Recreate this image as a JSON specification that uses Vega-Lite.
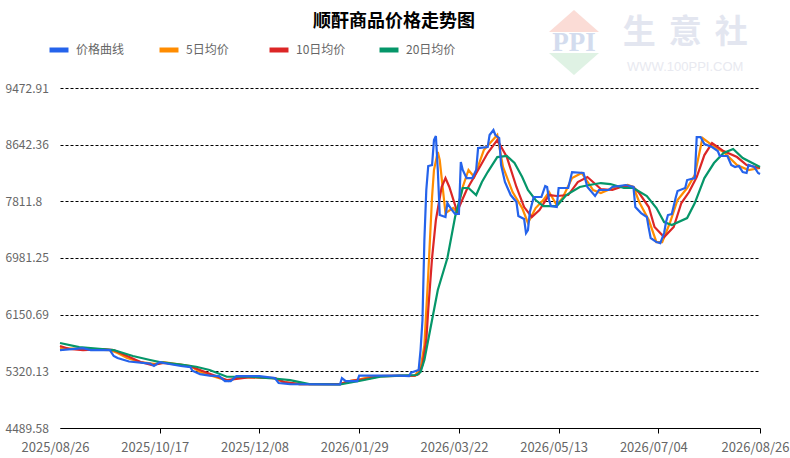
{"$schema":"https://vega.github.io/schema/vega-lite/v6.json","autosize":"none","width":700,"height":340,"padding":{"left":60,"top":88,"right":30,"bottom":30},"background":"white",
"config":{"font":"Noto Sans CJK SC","view":{"stroke":null}},
"title":{"text":"顺酐商品价格走势图","font":"Noto Sans CJK SC","fontSize":18,"fontWeight":"bold","color":"#000","anchor":"middle","dx":-16,"offset":-30,"baseline":"middle"},
"datasets":{"logo":[{"d":"2026-05-21","v":10454,"t":"up"},{"d":"2026-05-21","v":9824,"t":"down"}],
"logoText":[{"d":"2026-05-21","v":10132,"t":"PPI","k":"ppi"},{"d":"2026-06-24","v":10278,"t":"生","k":"cn"},{"d":"2026-07-18","v":10278,"t":"意","k":"cn"},{"d":"2026-08-11","v":10278,"t":"社","k":"cn"},{"d":"2026-07-18","v":9778,"t":"WWW.100PPI.COM","k":"url"}],
"series":[
{"d":"2025-08-26","s":"5日均价","v":5662},{"d":"2025-09-08","s":"5日均价","v":5647},{"d":"2025-09-21","s":"5日均价","v":5632},{"d":"2025-09-25","s":"5日均价","v":5588},{"d":"2025-09-30","s":"5日均价","v":5515},{"d":"2025-10-07","s":"5日均价","v":5456},{"d":"2025-10-15","s":"5日均价","v":5427},{"d":"2025-10-19","s":"5日均价","v":5456},{"d":"2025-11-02","s":"5日均价","v":5398},{"d":"2025-11-07","s":"5日均价","v":5310},{"d":"2025-11-15","s":"5日均价","v":5236},{"d":"2025-11-22","s":"5日均价","v":5178},{"d":"2025-11-27","s":"5日均价","v":5236},{"d":"2025-12-16","s":"5日均价","v":5222},{"d":"2025-12-20","s":"5日均价","v":5163},{"d":"2025-12-29","s":"5日均价","v":5134},{"d":"2026-01-19","s":"5日均价","v":5134},{"d":"2026-01-24","s":"5日均价","v":5178},{"d":"2026-01-30","s":"5日均价","v":5207},{"d":"2026-02-05","s":"5日均价","v":5251},{"d":"2026-02-27","s":"5日均价","v":5258},{"d":"2026-03-02","s":"5日均价","v":5368},{"d":"2026-03-04","s":"5日均价","v":5705},{"d":"2026-03-06","s":"5日均价","v":6731},{"d":"2026-03-08","s":"5日均价","v":7875},{"d":"2026-03-09","s":"5日均价","v":8271},{"d":"2026-03-11","s":"5日均价","v":8535},{"d":"2026-03-12","s":"5日均价","v":8417},{"d":"2026-03-15","s":"5日均价","v":7640},{"d":"2026-03-19","s":"5日均价","v":7714},{"d":"2026-03-21","s":"5日均价","v":7655},{"d":"2026-03-24","s":"5日均价","v":8022},{"d":"2026-03-27","s":"5日均价","v":8271},{"d":"2026-03-30","s":"5日均价","v":8168},{"d":"2026-04-04","s":"5日均价","v":8564},{"d":"2026-04-11","s":"5日均价","v":8784},{"d":"2026-04-14","s":"5日均价","v":8315},{"d":"2026-04-19","s":"5日均价","v":7948},{"d":"2026-04-24","s":"5日均价","v":7713},{"d":"2026-04-27","s":"5日均价","v":7494},{"d":"2026-05-01","s":"5日均价","v":7713},{"d":"2026-05-05","s":"5日均价","v":7831},{"d":"2026-05-08","s":"5日均价","v":7948},{"d":"2026-05-12","s":"5日均价","v":7757},{"d":"2026-05-15","s":"5日均价","v":7860},{"d":"2026-05-20","s":"5日均价","v":8153},{"d":"2026-05-25","s":"5日均价","v":8227},{"d":"2026-05-31","s":"5日均价","v":7978},{"d":"2026-06-04","s":"5日均价","v":7934},{"d":"2026-06-09","s":"5日均价","v":7993},{"d":"2026-06-18","s":"5日均价","v":8051},{"d":"2026-06-21","s":"5日均价","v":8022},{"d":"2026-06-24","s":"5日均价","v":7802},{"d":"2026-06-29","s":"5日均价","v":7538},{"d":"2026-07-03","s":"5日均价","v":7215},{"d":"2026-07-06","s":"5日均价","v":7215},{"d":"2026-07-10","s":"5日均价","v":7494},{"d":"2026-07-14","s":"5日均价","v":7831},{"d":"2026-07-19","s":"5日均价","v":8007},{"d":"2026-07-23","s":"5日均价","v":8197},{"d":"2026-07-27","s":"5日均价","v":8740},{"d":"2026-08-01","s":"5日均价","v":8637},{"d":"2026-08-07","s":"5日均价","v":8535},{"d":"2026-08-14","s":"5日均价","v":8344},{"d":"2026-08-20","s":"5日均价","v":8271},{"d":"2026-08-26","s":"5日均价","v":8300},
{"d":"2025-08-26","s":"10日均价","v":5691},{"d":"2025-08-31","s":"10日均价","v":5647},{"d":"2025-09-07","s":"10日均价","v":5632},{"d":"2025-09-17","s":"10日均价","v":5647},{"d":"2025-09-23","s":"10日均价","v":5632},{"d":"2025-09-30","s":"10日均价","v":5544},{"d":"2025-10-07","s":"10日均价","v":5456},{"d":"2025-10-13","s":"10日均价","v":5412},{"d":"2025-10-19","s":"10日均价","v":5442},{"d":"2025-10-29","s":"10日均价","v":5412},{"d":"2025-11-03","s":"10日均价","v":5383},{"d":"2025-11-11","s":"10日均价","v":5295},{"d":"2025-11-21","s":"10日均价","v":5192},{"d":"2025-12-03","s":"10日均价","v":5236},{"d":"2025-12-16","s":"10日均价","v":5222},{"d":"2025-12-21","s":"10日均价","v":5163},{"d":"2025-12-29","s":"10日均价","v":5134},{"d":"2026-01-19","s":"10日均价","v":5134},{"d":"2026-01-24","s":"10日均价","v":5178},{"d":"2026-02-01","s":"10日均价","v":5207},{"d":"2026-02-09","s":"10日均价","v":5251},{"d":"2026-02-27","s":"10日均价","v":5258},{"d":"2026-03-01","s":"10日均价","v":5280},{"d":"2026-03-03","s":"10日均价","v":5412},{"d":"2026-03-05","s":"10日均价","v":5779},{"d":"2026-03-06","s":"10日均价","v":6218},{"d":"2026-03-08","s":"10日均价","v":6981},{"d":"2026-03-10","s":"10日均价","v":7538},{"d":"2026-03-13","s":"10日均价","v":8022},{"d":"2026-03-15","s":"10日均价","v":8153},{"d":"2026-03-17","s":"10日均价","v":8022},{"d":"2026-03-20","s":"10日均价","v":7757},{"d":"2026-03-21","s":"10日均价","v":7655},{"d":"2026-03-26","s":"10日均价","v":7978},{"d":"2026-04-01","s":"10日均价","v":8271},{"d":"2026-04-06","s":"10日均价","v":8520},{"d":"2026-04-11","s":"10日均价","v":8710},{"d":"2026-04-16","s":"10日均价","v":8461},{"d":"2026-04-21","s":"10日均价","v":8022},{"d":"2026-04-25","s":"10日均价","v":7728},{"d":"2026-04-29","s":"10日均价","v":7582},{"d":"2026-05-03","s":"10日均价","v":7685},{"d":"2026-05-08","s":"10日均价","v":7904},{"d":"2026-05-12","s":"10日均价","v":7890},{"d":"2026-05-18","s":"10日均价","v":7904},{"d":"2026-05-23","s":"10日均价","v":8095},{"d":"2026-05-28","s":"10日均价","v":8168},{"d":"2026-06-04","s":"10日均价","v":7992},{"d":"2026-06-10","s":"10日均价","v":7978},{"d":"2026-06-16","s":"10日均价","v":8036},{"d":"2026-06-21","s":"10日均价","v":8022},{"d":"2026-06-24","s":"10日均价","v":7933},{"d":"2026-06-29","s":"10日均价","v":7728},{"d":"2026-07-02","s":"10日均价","v":7435},{"d":"2026-07-07","s":"10日均价","v":7288},{"d":"2026-07-12","s":"10日均价","v":7435},{"d":"2026-07-16","s":"10日均价","v":7787},{"d":"2026-07-20","s":"10日均价","v":7948},{"d":"2026-07-24","s":"10日均价","v":8168},{"d":"2026-07-28","s":"10日均价","v":8490},{"d":"2026-08-01","s":"10日均价","v":8666},{"d":"2026-08-07","s":"10日均价","v":8549},{"d":"2026-08-14","s":"10日均价","v":8461},{"d":"2026-08-19","s":"10日均价","v":8344},{"d":"2026-08-26","s":"10日均价","v":8300},
{"d":"2025-08-26","s":"20日均价","v":5735},{"d":"2025-09-05","s":"20日均价","v":5676},{"d":"2025-09-23","s":"20日均价","v":5632},{"d":"2025-10-03","s":"20日均价","v":5544},{"d":"2025-10-12","s":"20日均价","v":5486},{"d":"2025-10-17","s":"20日均价","v":5456},{"d":"2025-10-29","s":"20日均价","v":5417},{"d":"2025-11-05","s":"20日均价","v":5387},{"d":"2025-11-12","s":"20日均价","v":5339},{"d":"2025-11-21","s":"20日均价","v":5241},{"d":"2025-12-03","s":"20日均价","v":5241},{"d":"2025-12-13","s":"20日均价","v":5222},{"d":"2025-12-24","s":"20日均价","v":5192},{"d":"2026-01-03","s":"20日均价","v":5134},{"d":"2026-01-19","s":"20日均价","v":5127},{"d":"2026-01-29","s":"20日均价","v":5178},{"d":"2026-02-09","s":"20日均价","v":5241},{"d":"2026-02-19","s":"20日均价","v":5258},{"d":"2026-02-28","s":"20日均价","v":5266},{"d":"2026-03-02","s":"20日均价","v":5310},{"d":"2026-03-04","s":"20日均价","v":5486},{"d":"2026-03-07","s":"20日均价","v":5925},{"d":"2026-03-11","s":"20日均价","v":6512},{"d":"2026-03-16","s":"20日均价","v":6981},{"d":"2026-03-20","s":"20日均价","v":7582},{"d":"2026-03-24","s":"20日均价","v":8007},{"d":"2026-03-27","s":"20日均价","v":8007},{"d":"2026-03-31","s":"20日均价","v":7904},{"d":"2026-04-03","s":"20日均价","v":8095},{"d":"2026-04-06","s":"20日均价","v":8241},{"d":"2026-04-11","s":"20日均价","v":8461},{"d":"2026-04-16","s":"20日均价","v":8476},{"d":"2026-04-20","s":"20日均价","v":8373},{"d":"2026-04-24","s":"20日均价","v":8168},{"d":"2026-04-27","s":"20日均价","v":7978},{"d":"2026-05-01","s":"20日均价","v":7831},{"d":"2026-05-05","s":"20日均价","v":7743},{"d":"2026-05-12","s":"20日均价","v":7743},{"d":"2026-05-17","s":"20日均价","v":7904},{"d":"2026-05-24","s":"20日均价","v":8022},{"d":"2026-05-29","s":"20日均价","v":8051},{"d":"2026-06-04","s":"20日均价","v":8080},{"d":"2026-06-09","s":"20日均价","v":8065},{"d":"2026-06-16","s":"20日均价","v":8007},{"d":"2026-06-21","s":"20日均价","v":8007},{"d":"2026-06-28","s":"20日均价","v":7890},{"d":"2026-07-03","s":"20日均价","v":7714},{"d":"2026-07-07","s":"20日均价","v":7508},{"d":"2026-07-11","s":"20日均价","v":7464},{"d":"2026-07-19","s":"20日均价","v":7567},{"d":"2026-07-23","s":"20日均价","v":7787},{"d":"2026-07-28","s":"20日均价","v":8153},{"d":"2026-08-02","s":"20日均价","v":8373},{"d":"2026-08-07","s":"20日均价","v":8520},{"d":"2026-08-12","s":"20日均价","v":8579},{"d":"2026-08-17","s":"20日均价","v":8446},{"d":"2026-08-26","s":"20日均价","v":8315},
{"d":"2025-08-26","s":"价格曲线","v":5632},{"d":"2025-09-07","s":"价格曲线","v":5660},{"d":"2025-09-11","s":"价格曲线","v":5632},{"d":"2025-09-21","s":"价格曲线","v":5632},{"d":"2025-09-23","s":"价格曲线","v":5545},{"d":"2025-09-25","s":"价格曲线","v":5515},{"d":"2025-10-01","s":"价格曲线","v":5464},{"d":"2025-10-12","s":"价格曲线","v":5434},{"d":"2025-10-14","s":"价格曲线","v":5398},{"d":"2025-10-17","s":"价格曲线","v":5456},{"d":"2025-10-22","s":"价格曲线","v":5427},{"d":"2025-10-28","s":"价格曲线","v":5398},{"d":"2025-11-02","s":"价格曲线","v":5383},{"d":"2025-11-03","s":"价格曲线","v":5329},{"d":"2025-11-07","s":"价格曲线","v":5280},{"d":"2025-11-12","s":"价格曲线","v":5258},{"d":"2025-11-17","s":"价格曲线","v":5251},{"d":"2025-11-20","s":"价格曲线","v":5178},{"d":"2025-11-23","s":"价格曲线","v":5178},{"d":"2025-11-26","s":"价格曲线","v":5251},{"d":"2025-12-08","s":"价格曲线","v":5251},{"d":"2025-12-16","s":"价格曲线","v":5222},{"d":"2025-12-18","s":"价格曲线","v":5149},{"d":"2025-12-24","s":"价格曲线","v":5134},{"d":"2026-01-19","s":"价格曲线","v":5127},{"d":"2026-01-20","s":"价格曲线","v":5222},{"d":"2026-01-22","s":"价格曲线","v":5178},{"d":"2026-01-28","s":"价格曲线","v":5178},{"d":"2026-01-29","s":"价格曲线","v":5258},{"d":"2026-02-19","s":"价格曲线","v":5258},{"d":"2026-02-24","s":"价格曲线","v":5251},{"d":"2026-02-25","s":"价格曲线","v":5300},{"d":"2026-03-01","s":"价格曲线","v":5339},{"d":"2026-03-02","s":"价格曲线","v":5632},{"d":"2026-03-03","s":"价格曲线","v":6071},{"d":"2026-03-04","s":"价格曲线","v":7244},{"d":"2026-03-05","s":"价格曲线","v":7978},{"d":"2026-03-06","s":"价格曲线","v":8329},{"d":"2026-03-08","s":"价格曲线","v":8344},{"d":"2026-03-09","s":"价格曲线","v":8710},{"d":"2026-03-10","s":"价格曲线","v":8769},{"d":"2026-03-11","s":"价格曲线","v":8271},{"d":"2026-03-12","s":"价格曲线","v":7611},{"d":"2026-03-15","s":"价格曲线","v":7582},{"d":"2026-03-16","s":"价格曲线","v":7787},{"d":"2026-03-18","s":"价格曲线","v":7699},{"d":"2026-03-20","s":"价格曲线","v":7626},{"d":"2026-03-22","s":"价格曲线","v":7626},{"d":"2026-03-23","s":"价格曲线","v":8388},{"d":"2026-03-24","s":"价格曲线","v":8271},{"d":"2026-03-26","s":"价格曲线","v":8153},{"d":"2026-03-29","s":"价格曲线","v":8153},{"d":"2026-03-31","s":"价格曲线","v":8271},{"d":"2026-04-01","s":"价格曲线","v":8593},{"d":"2026-04-06","s":"价格曲线","v":8607},{"d":"2026-04-07","s":"价格曲线","v":8784},{"d":"2026-04-09","s":"价格曲线","v":8857},{"d":"2026-04-10","s":"价格曲线","v":8784},{"d":"2026-04-12","s":"价格曲线","v":8740},{"d":"2026-04-13","s":"价格曲线","v":8344},{"d":"2026-04-15","s":"价格曲线","v":8095},{"d":"2026-04-18","s":"价格曲线","v":7904},{"d":"2026-04-21","s":"价格曲线","v":7802},{"d":"2026-04-22","s":"价格曲线","v":7597},{"d":"2026-04-25","s":"价格曲线","v":7552},{"d":"2026-04-26","s":"价格曲线","v":7347},{"d":"2026-04-27","s":"价格曲线","v":7391},{"d":"2026-04-28","s":"价格曲线","v":7655},{"d":"2026-04-30","s":"价格曲线","v":7875},{"d":"2026-05-04","s":"价格曲线","v":7875},{"d":"2026-05-06","s":"价格曲线","v":8036},{"d":"2026-05-07","s":"价格曲线","v":8022},{"d":"2026-05-08","s":"价格曲线","v":7831},{"d":"2026-05-09","s":"价格曲线","v":7743},{"d":"2026-05-12","s":"价格曲线","v":7729},{"d":"2026-05-13","s":"价格曲线","v":8007},{"d":"2026-05-18","s":"价格曲线","v":8007},{"d":"2026-05-20","s":"价格曲线","v":8241},{"d":"2026-05-26","s":"价格曲线","v":8227},{"d":"2026-05-28","s":"价格曲线","v":8022},{"d":"2026-06-01","s":"价格曲线","v":7890},{"d":"2026-06-03","s":"价格曲线","v":7978},{"d":"2026-06-08","s":"价格曲线","v":7978},{"d":"2026-06-10","s":"价格曲线","v":8022},{"d":"2026-06-17","s":"价格曲线","v":8051},{"d":"2026-06-21","s":"价格曲线","v":8022},{"d":"2026-06-22","s":"价格曲线","v":7729},{"d":"2026-06-25","s":"价格曲线","v":7640},{"d":"2026-06-28","s":"价格曲线","v":7582},{"d":"2026-06-29","s":"价格曲线","v":7420},{"d":"2026-06-30","s":"价格曲线","v":7274},{"d":"2026-07-03","s":"价格曲线","v":7215},{"d":"2026-07-05","s":"价格曲线","v":7200},{"d":"2026-07-07","s":"价格曲线","v":7347},{"d":"2026-07-08","s":"价格曲线","v":7508},{"d":"2026-07-09","s":"价格曲线","v":7611},{"d":"2026-07-11","s":"价格曲线","v":7626},{"d":"2026-07-13","s":"价格曲线","v":7860},{"d":"2026-07-14","s":"价格曲线","v":7963},{"d":"2026-07-18","s":"价格曲线","v":8007},{"d":"2026-07-19","s":"价格曲线","v":8124},{"d":"2026-07-23","s":"价格曲线","v":8153},{"d":"2026-07-24","s":"价格曲线","v":8754},{"d":"2026-07-26","s":"价格曲线","v":8754},{"d":"2026-07-28","s":"价格曲线","v":8651},{"d":"2026-08-01","s":"价格曲线","v":8607},{"d":"2026-08-04","s":"价格曲线","v":8549},{"d":"2026-08-05","s":"价格曲线","v":8476},{"d":"2026-08-09","s":"价格曲线","v":8476},{"d":"2026-08-11","s":"价格曲线","v":8344},{"d":"2026-08-13","s":"价格曲线","v":8315},{"d":"2026-08-15","s":"价格曲线","v":8329},{"d":"2026-08-17","s":"价格曲线","v":8241},{"d":"2026-08-19","s":"价格曲线","v":8227},{"d":"2026-08-20","s":"价格曲线","v":8344},{"d":"2026-08-23","s":"价格曲线","v":8315},{"d":"2026-08-25","s":"价格曲线","v":8227},{"d":"2026-08-26","s":"价格曲线","v":8212}
]},
"encoding":{
"x":{"field":"d","type":"temporal","title":null,"scale":{"type":"utc","domain":["2025-08-26","2026-08-26"]},"axis":{"values":["2025-08-26","2025-10-17","2025-12-08","2026-01-29","2026-03-22","2026-05-13","2026-07-04","2026-08-26"],"labelExpr":"utcFormat(datum.value,'%Y/%m/%d')","grid":false,"domain":true,"domainColor":"#000","domainWidth":1,"ticks":true,"tickColor":"#000","tickSize":5,"tickOpacity":{"condition":{"test":"datum.index==0","value":0},"value":1},"labelFont":"Noto Sans CJK SC","labelFontSize":13,"labelColor":"#666","labelOffset":-5,"labelPadding":8,"labelFlush":false,"labelOverlap":false}},
"y":{"field":"v","type":"quantitative","title":null,"scale":{"domain":[4489.58,9472.91],"nice":false,"zero":false},"axis":{"values":[4489.58,5320.13,6150.69,6981.25,7811.8,8642.36,9472.91],"labelExpr":"''+datum.value","domain":false,"ticks":false,"grid":true,"gridColor":"#000","gridDash":[3,2],"gridWidth":1,"gridOpacity":1,"labelFont":"Noto Sans CJK SC","labelFontSize":12,"labelColor":"#666","labelAlign":"left","labelPadding":55,"labelBaseline":"middle","labelOverlap":false}}},
"layer":[
{"data":{"name":"logo"},"transform":[{"filter":"datum.t=='up'"}],"mark":{"type":"point","filled":true,"opacity":1,"clip":false,"shape":"M-1,0.44L1,0.44L0,-0.44Z","size":2500,"fill":"#fbdcd6","stroke":null}},
{"data":{"name":"logo"},"transform":[{"filter":"datum.t=='down'"}],"mark":{"type":"point","filled":true,"opacity":1,"clip":false,"shape":"M-1,-0.44L1,-0.44L0,0.44Z","size":2500,"fill":"#dff2e4","stroke":null}},
{"data":{"name":"logoText"},"transform":[{"filter":"datum.k=='ppi'"}],"mark":{"type":"text","font":"Liberation Serif","fontWeight":"bold","fontSize":27,"color":"#d3dcee","baseline":"middle","align":"center"},"encoding":{"text":{"field":"t"}}},
{"data":{"name":"logoText"},"transform":[{"filter":"datum.k=='cn'"}],"mark":{"type":"text","font":"Noto Sans CJK SC","fontWeight":"bold","fontSize":33,"color":"#e3e6f0","baseline":"middle","align":"center"},"encoding":{"text":{"field":"t"}}},
{"data":{"name":"logoText"},"transform":[{"filter":"datum.k=='url'"}],"mark":{"type":"text","font":"Liberation Sans","fontSize":13,"color":"#e8e9f0","baseline":"middle","align":"center"},"encoding":{"text":{"field":"t"}}},
{"data":{"name":"series"},"mark":{"type":"line","strokeWidth":2.2,"interpolate":"linear"},
"encoding":{"color":{"field":"s","type":"nominal","scale":{"domain":["价格曲线","5日均价","10日均价","20日均价"],"range":["#2563eb","#ff8c00","#dc2626","#059669"]},
"legend":{"title":null,"orient":"none","legendX":-13,"legendY":-50,"direction":"horizontal","columns":4,"columnPadding":23,"gridAlign":"all","symbolType":"stroke","symbolSize":360,"symbolStrokeWidth":5,"labelFont":"Noto Sans CJK SC","labelFontSize":12,"labelColor":"#666","labelOffset":5,"padding":0}}}}
]}
